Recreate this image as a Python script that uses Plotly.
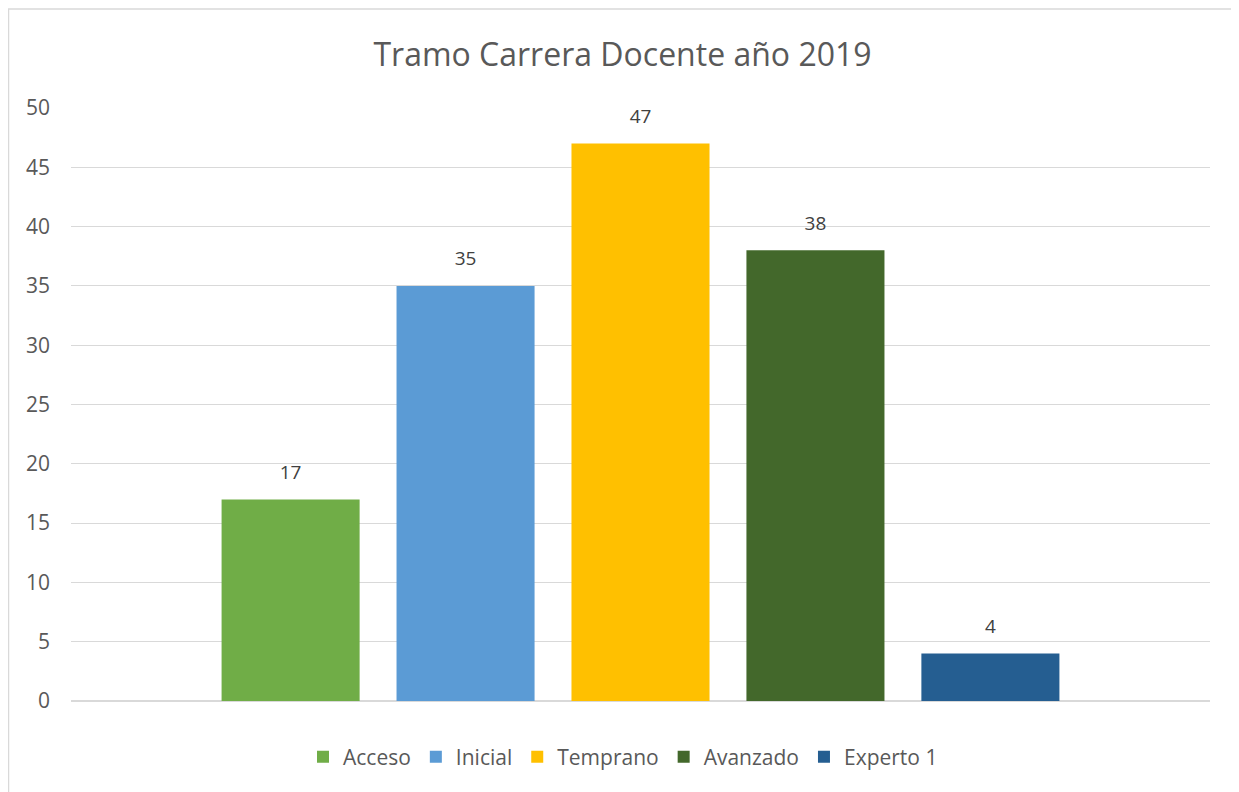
import plotly.graph_objects as go

title = "Tramo Carrera Docente año 2019"
category = ["2019"]
series_names = ["Acceso", "Inicial", "Temprano", "Avanzado", "Experto 1"]
series_values = [17, 35, 47, 38, 4]
series_colors = ["#70AD47", "#5B9BD5", "#FFC000", "#43682B", "#255E91"]
y_ticks = [0, 5, 10, 15, 20, 25, 30, 35, 40, 45, 50]

FONT = "Open Sans"

fig = go.Figure()
for name, val, col in zip(series_names, series_values, series_colors):
    fig.add_trace(go.Bar(
        name=name, x=category, y=[val],
        marker=dict(color=col, line=dict(width=0)),
        hoverinfo="name+y", legendgroup=name,
    ))
# data labels: grouped text-only scatter traces aligned with the bars
for name, val in zip(series_names, series_values):
    fig.add_trace(go.Scatter(
        name=name, x=category, y=[val], mode="markers+text",
        text=[str(val)], textposition="top center",
        textfont=dict(family=FONT, size=19, color="#404040"),
        marker=dict(size=24, color="rgba(0,0,0,0)"),
        showlegend=False, hoverinfo="skip", cliponaxis=False, legendgroup=name,
    ))

# page body has an 8px margin; figure coords = screen coords - 8
OFF = 8
W, H = 1239 - OFF, 792 - OFF
L, R, T, B = 71 - OFF, 29, 108 - OFF, 91
pw = W - L - R
ph = H - T - B

def px_x(sx):
    return (sx - OFF - L) / pw

def px_y(sy):
    return (H - B - (sy - OFF)) / ph

fig.update_layout(
    width=W, height=H,
    margin=dict(l=L, r=R, t=T, b=B, autoexpand=False),
    paper_bgcolor="white", plot_bgcolor="white",
    barmode="group", bargap=0.232, bargroupgap=0.211,
    scattermode="group", scattergap=0.232,
    title=dict(text=title, x=(622.5 - OFF) / W, xref="container",
               y=1 - (55 - OFF) / H, yref="container",
               xanchor="center", yanchor="middle",
               font=dict(family=FONT, size=32, color="#595959")),
    legend=dict(orientation="h", x=px_x(623), xanchor="center",
                y=px_y(757), yanchor="middle",
                font=dict(family=FONT, size=21, color="#595959"),
                itemwidth=30, traceorder="normal"),
    font=dict(family=FONT, color="#595959"),
    xaxis=dict(showticklabels=False, showgrid=False, zeroline=False, showline=False, ticks=""),
    yaxis=dict(range=[0, 50], tickvals=y_ticks, showgrid=True, gridcolor="#D9D9D9", gridwidth=1,
               zeroline=True, zerolinecolor="#D9D9D9", zerolinewidth=1.5, showline=False, ticks="",
               ticklabelstandoff=20,
               tickfont=dict(family=FONT, size=21, color="#595959")),
    shapes=[dict(type="rect", xref="paper", yref="paper",
                 x0=px_x(8.5), x1=px_x(1237.5),
                 y0=px_y(820), y1=px_y(9),
                 line=dict(color="#D9D9D9", width=1.5), fillcolor="rgba(0,0,0,0)", layer="below")],
)

fig.write_html("out.html")
